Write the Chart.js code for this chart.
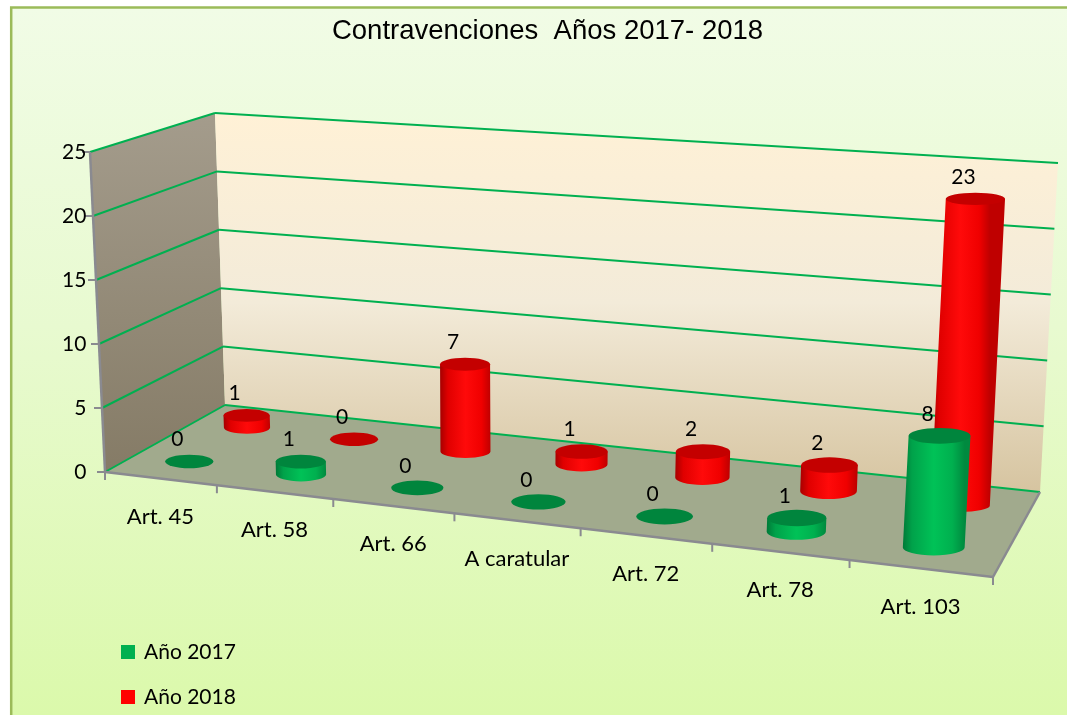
<!DOCTYPE html>
<html>
<head>
<meta charset="utf-8">
<title>Contravenciones Años 2017-2018</title>
<script src="https://cdn.jsdelivr.net/npm/chart.js@4/dist/chart.umd.min.js"></script>
<style>
  html, body { margin: 0; padding: 0; background: #fff; overflow: hidden; }
  #wrap { width: 1067px; height: 715px; }
  canvas { display: block; }
</style>
</head>
<body>
<div id="wrap"><canvas id="contraChart" width="1067" height="715"></canvas></div>
<script>
// datos
const categorias = ['Art. 45', 'Art. 58', 'Art. 66', 'A caratular', 'Art. 72', 'Art. 78', 'Art. 103'];
const anio2017 = [0, 1, 0, 0, 0, 1, 8];
const anio2018 = [1, 0, 7, 1, 2, 2, 23];
const nombresSeries = ['Año 2017', 'Año 2018'];
const valoresEjeY = [0, 5, 10, 15, 20, 25];

// caja en perspectiva: esquinas del piso (v=0) y del techo (v=1)
// fi/fd = fondo izq/der, di/dd = delante izq/der
const piso = { fi: [225, 405], fd: [1040, 492], di: [105, 472], dd: [993, 577] };
const techo = { fi: [215, 113], fd: [1058, 163], di: [90, 152], dd: [1015, 217] };
const FUGA = 1.156;   // las categorias de la derecha se ven mas cerca
const FUENTE = 'Lato, "Noto Sans", sans-serif';

const colores = [
  { // 2017
    cuerpo: [[0, '#007a38'], [0.15, '#00a24a'], [0.5, '#00c257'], [0.8, '#00b04f'], [1, '#008a3f']],
    tapa: '#00853d', leyenda: '#00b050'
  },
  { // 2018
    cuerpo: [[0, '#a80000'], [0.15, '#e00000'], [0.5, '#ff0a0a'], [0.82, '#f00000'], [1, '#bf0000']],
    tapa: '#c40000', leyenda: '#ff0000'
  }
];

function deformar(u) {
  return u / (u + FUGA * (1 - u));
}

function bilineal(c, w, d) {
  const fx = c.fi[0] + (c.fd[0] - c.fi[0]) * w, fy = c.fi[1] + (c.fd[1] - c.fi[1]) * w;
  const dx = c.di[0] + (c.dd[0] - c.di[0]) * w, dy = c.di[1] + (c.dd[1] - c.di[1]) * w;
  return [fx + (dx - fx) * d, fy + (dy - fy) * d];
}

// u: posicion en el eje de categorias (0..1), v: valor (0..1), d: profundidad (0 fondo, 1 frente)
function proyectar(u, v, d) {
  const w = deformar(u);
  const b = bilineal(piso, w, d), t = bilineal(techo, w, d);
  return [b[0] + (t[0] - b[0]) * v, b[1] + (t[1] - b[1]) * v];
}

function poligono(ctx, pts) {
  ctx.beginPath();
  ctx.moveTo(pts[0][0], pts[0][1]);
  for (let i = 1; i < pts.length; i++) ctx.lineTo(pts[i][0], pts[i][1]);
  ctx.closePath();
}

function linea(ctx, a, b) {
  ctx.beginPath();
  ctx.moveTo(a[0], a[1]);
  ctx.lineTo(b[0], b[1]);
  ctx.stroke();
}

function escalas(chart) {
  const xs = chart.scales.x, ys = chart.scales.y;
  const uDe = i => (xs.getPixelForValue(i) - xs.left) / xs.width;
  const vDe = val => (ys.bottom - ys.getPixelForValue(val)) / (ys.bottom - ys.top);
  return { xs, ys, uDe, vDe, anchoCat: uDe(1) - uDe(0) };
}

const fondo3d = {
  id: 'fondo3d',
  beforeDraw(chart) {
    const ctx = chart.ctx, W = chart.width, H = chart.height;
    const { ys, uDe, vDe, anchoCat } = escalas(chart);
    // el borde delantero izquierdo coincide con el eje Y
    piso.di[1] = ys.bottom;
    techo.di[1] = ys.top;

    ctx.save();
    ctx.fillStyle = '#ffffff';
    ctx.fillRect(0, 0, W, H);
    const g = ctx.createLinearGradient(0, 8, 0, H);
    g.addColorStop(0, '#f1fce6');
    g.addColorStop(0.45, '#e8fad0');
    g.addColorStop(1, '#dbf9ab');
    ctx.fillStyle = g;
    ctx.fillRect(11, 7.5, W, H);
    // marco (solo se ven los lados superior e izquierdo)
    ctx.strokeStyle = '#9bbb59';
    ctx.lineWidth = 2.5;
    ctx.beginPath();
    ctx.moveTo(11.2, H + 5);
    ctx.lineTo(11.2, 7.5);
    ctx.lineTo(W + 5, 7.5);
    ctx.stroke();

    // pared izquierda
    const gi = ctx.createLinearGradient(0, 113, 0, 472);
    gi.addColorStop(0, '#a49c8c');
    gi.addColorStop(1, '#857b66');
    ctx.fillStyle = gi;
    poligono(ctx, [proyectar(0, 0, 1), proyectar(0, 1, 1), proyectar(0, 1, 0), proyectar(0, 0, 0)]);
    ctx.fill();

    // pared del fondo
    const gf = ctx.createLinearGradient(0, 113, 0, 492);
    gf.addColorStop(0, '#fff1d6');
    gf.addColorStop(0.5, '#f3ebd9');
    gf.addColorStop(1, '#d6c4a0');
    ctx.fillStyle = gf;
    poligono(ctx, [proyectar(0, 0, 0), proyectar(0, 1, 0), proyectar(1, 1, 0), proyectar(1, 0, 0)]);
    ctx.fill();

    // piso
    ctx.fillStyle = '#a1aa8d';
    poligono(ctx, [proyectar(0, 0, 0), proyectar(1, 0, 0), proyectar(1, 0, 1), proyectar(0, 0, 1)]);
    ctx.fill();

    // lineas de division
    ctx.strokeStyle = '#00b050';
    ctx.lineWidth = 2;
    ys.ticks.forEach(t => {
      const v = vDe(t.value);
      linea(ctx, proyectar(0, v, 1), proyectar(0, v, 0));
      linea(ctx, proyectar(0, v, 0), proyectar(1, v, 0));
    });

    // ejes
    ctx.strokeStyle = '#8a8a90';
    ctx.lineWidth = 2.5;
    linea(ctx, proyectar(0, 0, 1), proyectar(0, 1, 1));
    linea(ctx, proyectar(0, 0, 1), proyectar(1, 0, 1));
    linea(ctx, proyectar(1, 0, 1), proyectar(1, 0, 0));
    ctx.lineWidth = 2;
    ys.ticks.forEach(t => {
      const p = proyectar(0, vDe(t.value), 1);
      linea(ctx, [p[0] - 8, p[1]], p);
    });
    for (let k = 0; k <= categorias.length; k++) {
      const p = proyectar(uDe(k) - anchoCat / 2, 0, 1);
      linea(ctx, p, [p[0], p[1] + 8]);
    }

    // etiquetas de categoria
    ctx.fillStyle = '#000';
    ctx.font = '22px ' + FUENTE;
    ctx.textAlign = 'center';
    ctx.textBaseline = 'middle';
    categorias.forEach((c, i) => {
      const p = proyectar(uDe(i), 0, 1);
      ctx.fillText(c, p[0], p[1] + 38);
    });
    ctx.restore();
  }
};

function cilindro(ctx, base, tope, rx, ry, col) {
  if (base[1] - tope[1] > 0.5) {
    const g = ctx.createLinearGradient(base[0] - rx, 0, base[0] + rx, 0);
    col.cuerpo.forEach(([o, c]) => g.addColorStop(o, c));
    ctx.fillStyle = g;
    ctx.beginPath();
    ctx.moveTo(tope[0] - rx, tope[1]);
    ctx.lineTo(base[0] - rx, base[1]);
    ctx.ellipse(base[0], base[1], rx, ry, 0, Math.PI, 0, true);
    ctx.lineTo(tope[0] + rx, tope[1]);
    ctx.closePath();
    ctx.fill();
  }
  ctx.fillStyle = col.tapa;
  ctx.beginPath();
  ctx.ellipse(tope[0], tope[1], rx, ry, 0, 0, Math.PI * 2);
  ctx.fill();
}

const cilindros = {
  id: 'cilindros',
  beforeDatasetsDraw(chart) {
    const ctx = chart.ctx;
    const { uDe, vDe, anchoCat } = escalas(chart);
    ctx.save();
    // primero la fila del fondo
    const orden = chart.data.datasets.map((ds, i) => i).sort((a, b) =>
      chart.data.datasets[a].profundidad - chart.data.datasets[b].profundidad);
    orden.forEach(di => {
      const ds = chart.data.datasets[di];
      const d = ds.profundidad;
      ds.data.forEach((val, i) => {
        const u = uDe(i);
        const izq = proyectar(u - anchoCat / 2, 0, d), der = proyectar(u + anchoCat / 2, 0, d);
        const rx = (der[0] - izq[0]) * 0.22;
        const v = vDe(val);
        const ry = rx * (0.28 - 0.08 * v);
        const base = proyectar(u, 0, d), tope = proyectar(u, v, d);
        cilindro(ctx, base, tope, rx, ry, colores[di]);
        ctx.fillStyle = '#000';
        ctx.font = '21px ' + FUENTE;
        ctx.textAlign = 'center';
        ctx.textBaseline = 'middle';
        ctx.fillText(String(val), tope[0] - 12, tope[1] - 22);
      });
    });
    ctx.restore();
    return false;
  }
};

const leyenda = {
  id: 'leyenda',
  afterDraw(chart) {
    const ctx = chart.ctx;
    ctx.save();
    ctx.font = '21px ' + FUENTE;
    ctx.textBaseline = 'middle';
    ctx.textAlign = 'left';
    chart.data.datasets.forEach((ds, i) => {
      const y = 652 + i * 45;
      ctx.fillStyle = colores[i].leyenda;
      ctx.fillRect(121, y - 7, 14, 14);
      ctx.fillStyle = '#000';
      ctx.fillText(ds.label, 144, y);
    });
    ctx.restore();
  }
};

new Chart(document.getElementById('contraChart'), {
  type: 'bar',
  data: {
    labels: categorias,
    datasets: [
      { label: nombresSeries[0], data: anio2017, backgroundColor: colores[0].leyenda, profundidad: 0.75 },
      { label: nombresSeries[1], data: anio2018, backgroundColor: colores[1].leyenda, profundidad: 0.25 }
    ]
  },
  options: {
    responsive: false,
    animation: false,
    devicePixelRatio: 1,
    layout: { padding: { left: 48, right: 20, top: 0, bottom: 243 } },
    scales: {
      x: { display: false },
      y: {
        min: valoresEjeY[0],
        max: valoresEjeY[valoresEjeY.length - 1],
        ticks: { stepSize: valoresEjeY[1] - valoresEjeY[0], color: '#000', padding: 14, font: { family: FUENTE, size: 21 } },
        grid: { display: false, drawTicks: false },
        border: { display: false }
      }
    },
    plugins: {
      legend: { display: false },
      tooltip: { enabled: false },
      title: {
        display: true,
        text: 'Contravenciones  Años 2017- 2018',
        color: '#000',
        font: { family: '"Liberation Sans", Arial, sans-serif', size: 27.5, weight: 'normal' },
        padding: { top: 14.5, bottom: 104.5 }
      }
    }
  },
  plugins: [fondo3d, cilindros, leyenda]
});
</script>
</body>
</html>
